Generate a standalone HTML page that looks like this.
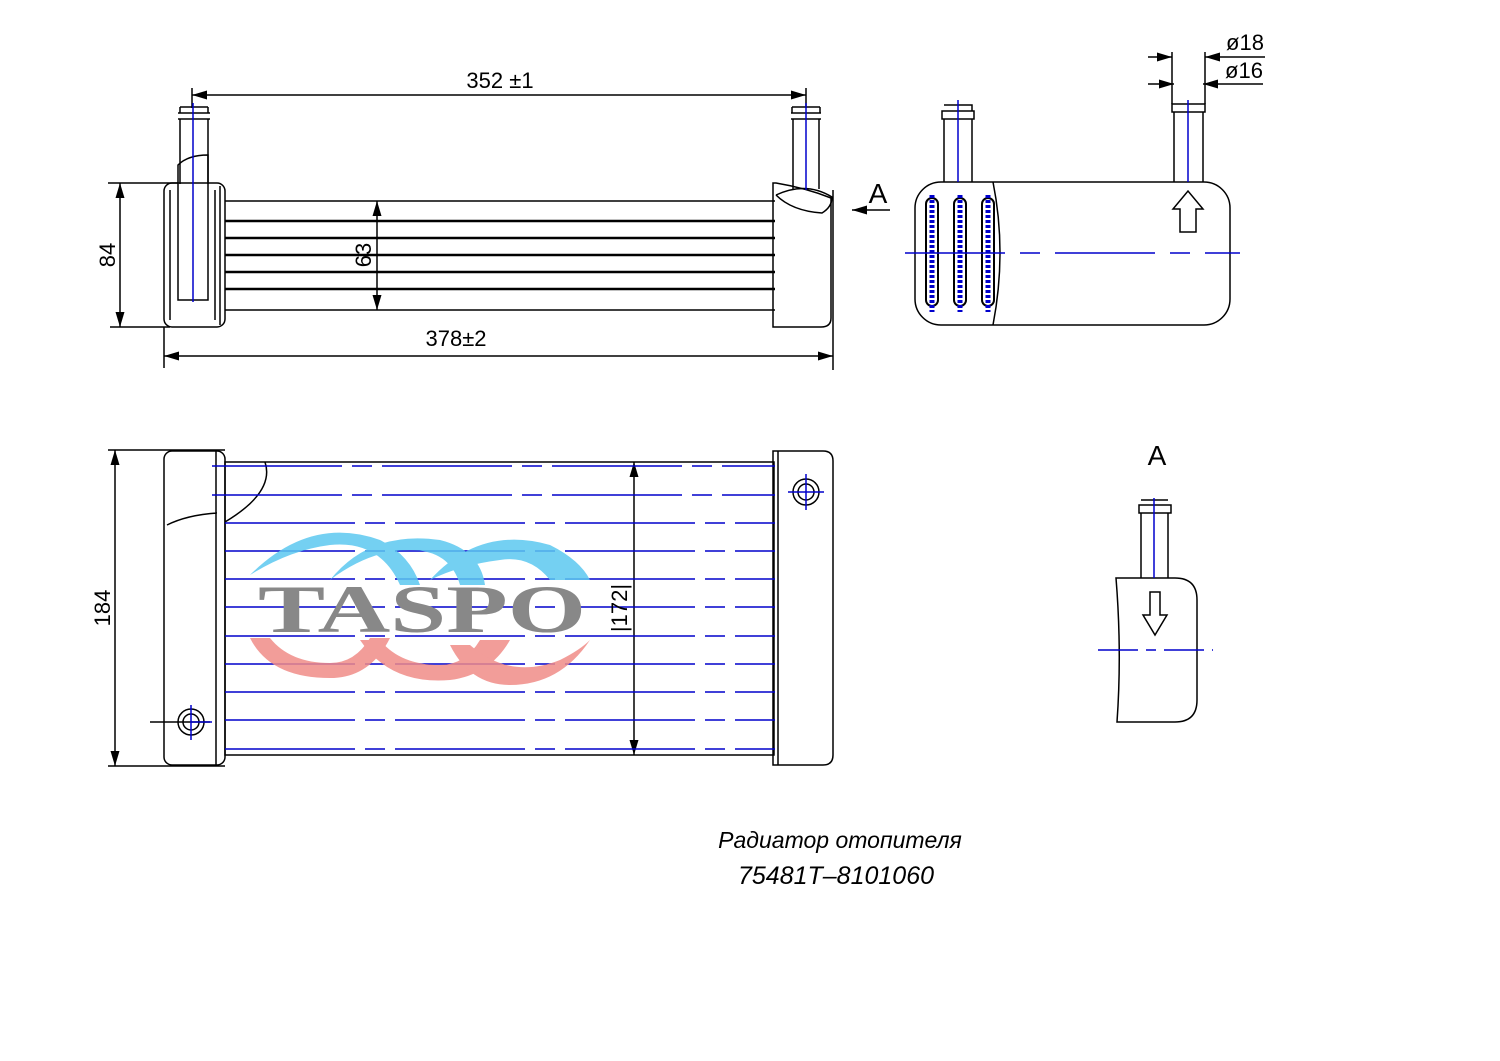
<!DOCTYPE html>
<html><head><meta charset="utf-8"><style>html,body{margin:0;padding:0;background:#fff}svg{display:block}</style></head>
<body>
<svg width="1500" height="1061" viewBox="0 0 1500 1061" xmlns="http://www.w3.org/2000/svg" font-family="Liberation Sans, DejaVu Sans, sans-serif">
<defs>
<marker id="ar" viewBox="0 0 10 6" refX="10" refY="3" markerWidth="10" markerHeight="6" orient="auto-start-reverse"><path d="M0,0 L10,3 L0,6 z" fill="#000"/></marker>
</defs>
<g fill="none" stroke="#000" stroke-width="1.5">
<line x1="192" y1="95" x2="806" y2="95" marker-start="url(#ar)" marker-end="url(#ar)"/>
<line x1="192" y1="88" x2="192" y2="108"/><line x1="806" y1="88" x2="806" y2="108"/>
<path d="M180,107 h28 M178,113 h32 M178,119 h32 M180,107 v6 M208,107 v6 M180,119 v65 M208,119 v65"/>
<path d="M178,300 V165 q10,-10 30,-10 V300 z"/>
<rect x="164" y="183" width="61" height="144" rx="8"/>
<path d="M170,190 V320 M215,190 V320 M220,186 V325"/>
<line x1="108" y1="183" x2="178" y2="183"/>
<line x1="110" y1="327" x2="170" y2="327"/>
<line x1="120" y1="183" x2="120" y2="327" marker-start="url(#ar)" marker-end="url(#ar)"/>
<line x1="225" y1="201" x2="775" y2="201"/>
<g stroke-width="2.5"><line x1="225" y1="221" x2="775" y2="221"/><line x1="225" y1="238" x2="775" y2="238"/><line x1="225" y1="255" x2="775" y2="255"/><line x1="225" y1="272" x2="775" y2="272"/><line x1="225" y1="289" x2="775" y2="289"/></g>
<line x1="225" y1="310" x2="775" y2="310"/>
<line x1="377" y1="201" x2="377" y2="310" marker-start="url(#ar)" marker-end="url(#ar)"/>
<path d="M792,107 h28 M791,113 h30 M791,119 h30 M792,107 v6 M820,107 v6 M793,119 v70 M819,119 v70"/>
<path d="M773,183 h3 q30,5 55,15 V318 q0,9 -10,9 H773 z"/>
<path d="M776,195 q30,-14 56,2 q0,10 -10,16 q-30,-2 -46,-18"/>
<line x1="164" y1="327" x2="164" y2="368"/><line x1="833" y1="190" x2="833" y2="370"/>
<line x1="164" y1="356" x2="833" y2="356" marker-start="url(#ar)" marker-end="url(#ar)"/>
<line x1="890" y1="210" x2="852" y2="210" marker-end="url(#ar)"/>
<rect x="915" y="182" width="315" height="143" rx="26"/>
<path d="M993,182 q14,70 0,143"/>
<path d="M944,182 V119 M972,182 V119 M942,111 h32 v8 h-32 z M944,105 h28 v6"/>
<path d="M1174,182 V112 M1203,182 V112 M1172,104 h33 v8 h-33 z"/>
<path d="M1172,52 V104 M1205,52 V104"/>
<line x1="1148" y1="57" x2="1172" y2="57" marker-end="url(#ar)"/>
<line x1="1148" y1="84" x2="1174" y2="84" marker-end="url(#ar)"/>
<line x1="1265" y1="57" x2="1205" y2="57" marker-end="url(#ar)"/>
<line x1="1263" y1="84" x2="1203" y2="84" marker-end="url(#ar)"/>
<path d="M1180,232 v-23 h-7 l15,-18 l15,18 h-7 v23 z"/>
<g stroke-width="2"><rect x="926" y="198" width="12" height="108" rx="6"/><rect x="954" y="198" width="12" height="108" rx="6"/><rect x="982" y="198" width="12" height="108" rx="6"/></g>
<line x1="108" y1="450" x2="225" y2="450"/><line x1="108" y1="766" x2="225" y2="766"/>
<line x1="115" y1="450" x2="115" y2="766" marker-start="url(#ar)" marker-end="url(#ar)"/>
<rect x="164" y="451" width="61" height="314" rx="8"/>
<path d="M216,451 V765 M167,525 q20,-10 50,-12"/>
<path d="M265,462 q10,30 -40,60"/>
<rect x="225" y="462" width="549" height="293"/>
<line x1="634" y1="462" x2="634" y2="755" marker-start="url(#ar)" marker-end="url(#ar)"/>
<path d="M773,451 h50 q10,0 10,10 V755 q0,10 -10,10 h-50 z M778,451 V765"/>
<circle cx="806" cy="492" r="13"/><circle cx="806" cy="492" r="8"/>
<circle cx="191" cy="722" r="13"/><circle cx="191" cy="722" r="8"/>
<line x1="150" y1="722" x2="210" y2="722"/>
<path d="M1141,578 V513 M1168,578 V513 M1139,505 h32 v8 h-32 z M1141,500 h27"/>
<path d="M1116,578 H1175 q22,0 22,22 V700 q0,22 -22,22 H1117 q5,-70 -1,-144 z"/>
<path d="M1150,592 v23 h-7 l12,20 l12,-20 h-7 v-23 z"/>
</g>
<g stroke="#00c" stroke-width="1.5" fill="none">
<line x1="193" y1="103" x2="193" y2="302"/><line x1="806" y1="103" x2="806" y2="190"/>
<line x1="958" y1="100" x2="958" y2="182"/><line x1="1188" y1="100" x2="1188" y2="182"/>
<line x1="905" y1="253" x2="1240" y2="253" stroke-dasharray="100 15 20 15"/>
<line x1="932" y1="195" x2="932" y2="312" stroke-dasharray="3 2" stroke-width="5"/>
<line x1="960" y1="195" x2="960" y2="312" stroke-dasharray="3 2" stroke-width="5"/>
<line x1="988" y1="195" x2="988" y2="312" stroke-dasharray="3 2" stroke-width="5"/>
<g stroke-dasharray="130 10 20 10">
<line x1="212" y1="466" x2="775" y2="466"/><line x1="212" y1="495" x2="775" y2="495"/>
<line x1="225" y1="523" x2="775" y2="523"/><line x1="225" y1="551" x2="775" y2="551"/>
<line x1="225" y1="579" x2="775" y2="579"/><line x1="225" y1="607" x2="775" y2="607"/>
<line x1="225" y1="636" x2="775" y2="636"/><line x1="225" y1="664" x2="775" y2="664"/>
<line x1="225" y1="692" x2="775" y2="692"/><line x1="225" y1="720" x2="775" y2="720"/>
<line x1="225" y1="749" x2="775" y2="749"/></g>
<line x1="788" y1="492" x2="824" y2="492"/><line x1="806" y1="474" x2="806" y2="510"/>
<line x1="191" y1="705" x2="191" y2="740"/><line x1="191" y1="722" x2="212" y2="722"/>
<line x1="1154" y1="498" x2="1154" y2="578"/>
<line x1="1098" y1="650" x2="1213" y2="650" stroke-dasharray="40 8 10 8"/>
</g>
<g opacity="0.85">
<path d="M250,575 q60,-60 130,-35 q30,15 40,45 l-20,0 q-20,-45 -70,-40 q-40,5 -80,30 z" fill="#5cc8f0"/>
<path d="M330,580 q40,-50 110,-40 q40,10 45,45 l-25,0 q-10,-35 -50,-35 q-40,0 -80,30 z" fill="#5cc8f0"/>
<path d="M430,580 q50,-55 120,-35 q30,15 40,35 h-40 q-20,-25 -50,-20 q-40,5 -70,20 z" fill="#5cc8f0"/>
<path d="M250,638 q20,40 80,40 q40,0 60,-40 h-20 q-15,25 -40,25 q-40,0 -60,-25 z" fill="#f08c88"/>
<path d="M360,640 q30,45 90,40 q40,-5 60,-40 h-30 q-15,25 -40,25 q-40,0 -60,-25 z" fill="#f08c88"/>
<path d="M470,645 q40,35 90,15 q20,-10 30,-20 q-30,45 -80,45 q-40,0 -60,-40 z" fill="#f08c88"/>
</g>
<text x="422" y="632" font-family="Liberation Serif, serif" font-weight="bold" font-size="68" fill="#888" text-anchor="middle" textLength="328" lengthAdjust="spacingAndGlyphs">TASPO</text>
<g font-size="22" fill="#000">
<text x="500" y="88" text-anchor="middle">352  ±1</text>
<text x="456" y="346" text-anchor="middle">378±2</text>
<text transform="translate(115,255) rotate(-90)" text-anchor="middle">84</text>
<text transform="translate(371,255) rotate(-90)" text-anchor="middle">63</text>
<text transform="translate(110,608) rotate(-90)" text-anchor="middle">184</text>
<text transform="translate(627,608) rotate(-90)" text-anchor="middle">|172|</text>
<text x="1245" y="50" text-anchor="middle">ø18</text>
<text x="1244" y="78" text-anchor="middle">ø16</text>
<text x="878" y="203" text-anchor="middle" font-size="28">A</text>
<text x="1157" y="465" text-anchor="middle" font-size="28">A</text>
<text x="840" y="848" text-anchor="middle" font-style="italic" font-size="23">Радиатор  отопителя</text>
<text x="836" y="884" text-anchor="middle" font-style="italic" font-size="25">75481T–8101060</text>
</g>
</svg>
</body></html>
